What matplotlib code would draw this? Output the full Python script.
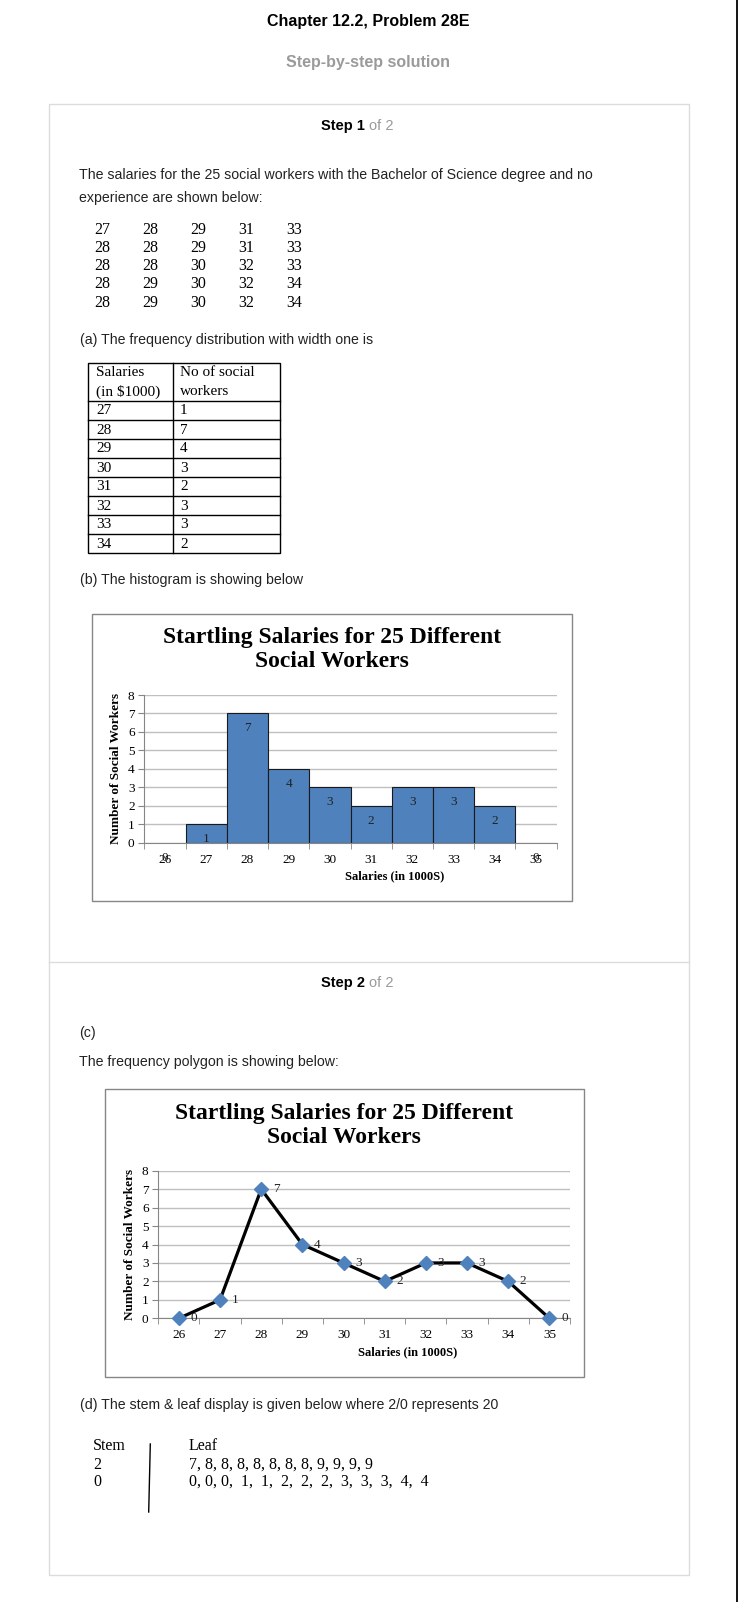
import numpy as np
import matplotlib
matplotlib.use("Agg")
import matplotlib.pyplot as plt
from matplotlib.patches import Rectangle

# raw salaries, printed column by column
salaries = [27, 28, 28, 28, 28,
            28, 28, 28, 29, 29,
            29, 29, 30, 30, 30,
            31, 31, 32, 32, 32,
            33, 33, 33, 34, 34]

# frequency table
table_salaries = [27, 28, 29, 30, 31, 32, 33, 34]
table_counts = [1, 7, 4, 3, 2, 3, 3, 2]

# histogram / polygon categories (with empty classes at both ends)
chart_x = [26, 27, 28, 29, 30, 31, 32, 33, 34, 35]
chart_y = [0, 1, 7, 4, 3, 2, 3, 3, 2, 0]

chart_title = "Startling Salaries for 25 Different\nSocial Workers"
x_label = "Salaries (in 1000S)"
y_label = "Number of Social Workers"

stems = ["2", "0"]
leaves_row1 = ["7", "8", "8", "8", "8", "8", "8", "8", "9", "9", "9", "9"]
leaves_row2 = ["0", "0", "0", " 1", " 1", " 2", " 2", " 2", " 3", " 3", " 3", " 4", " 4"]

W, H = 738, 1602
SANS = "Liberation Sans"
SERIF = "Liberation Serif"
BAR_BLUE = "#4F81BD"
GRID = "#BFBFBF"
AXGREY = "#868686"

fig = plt.figure(figsize=(W / 100, H / 100), dpi=100)
fig.patch.set_facecolor("white")

# page canvas in pixel coordinates
page = fig.add_axes([0, 0, 1, 1])
page.set_xlim(0, W)
page.set_ylim(H, 0)
page.axis("off")


def txt(x, y, s, size=10.2, color="#222222", weight="normal", ha="left", family=SANS):
    page.text(x, y, s, fontsize=size, color=color, fontweight=weight, ha=ha, va="center",
              family=family)


def px_rect(left, top, right, bottom):
    """pixel box -> figure fraction rect"""
    return [left / W, 1 - bottom / H, (right - left) / W, (bottom - top) / H]


# header
txt(368, 21.5, "Chapter 12.2, Problem 28E", size=11.5, color="black", weight="bold", ha="center")
txt(368.5, 63, "Step-by-step solution", size=11.5, color="#9a9a9a", weight="bold", ha="center")

# solution box and divider
page.add_patch(Rectangle((48.5, 104.3), 640, 1575 - 104.3, fill=False, ec="#dcdcdc", lw=1))
page.plot([48.5, 688.5], [961.7, 961.7], color="#dcdcdc", lw=1)
page.plot([737, 737], [0, H], color="black", lw=1.3)

# step 1
txt(365, 126, "Step 1", size=10.5, color="black", weight="bold", ha="right")
txt(369, 126, "of 2", size=10.5, color="#9a9a9a")
txt(79, 175, "The salaries for the 25 social workers with the Bachelor of Science degree and no")
txt(79, 198, "experience are shown below:")

grid_vals = np.array(salaries).reshape(5, 5)
col_x = [102, 150, 198, 246, 294]
row_y = [229.5, 248.5, 266.5, 284.5, 303]
for c in range(5):
    for r in range(5):
        txt(col_x[c], row_y[r], str(grid_vals[c, r]), size=11.5, color="black", ha="center", family=SERIF)

# (a) frequency table
txt(80, 340, "(a) The frequency distribution with width one is")
tab_l, tab_m, tab_r = 88, 173, 280
tab_top, head_bot, row_h = 363, 401, 19
tab_bot = head_bot + row_h * len(table_salaries)
page.add_patch(Rectangle((tab_l, tab_top), tab_r - tab_l, tab_bot - tab_top, fill=False, ec="black", lw=1))
page.plot([tab_m, tab_m], [tab_top, tab_bot], color="black", lw=1)
for i in range(len(table_salaries)):
    y = head_bot + row_h * i
    page.plot([tab_l, tab_r], [y, y], color="black", lw=1)
    txt(96, y + row_h / 2 + 0.5, str(table_salaries[i]), size=11, color="black", family=SERIF)
    txt(180, y + row_h / 2 + 0.5, str(table_counts[i]), size=11, color="black", family=SERIF)
txt(96, 373, "Salaries", size=11, color="black", family=SERIF)
txt(96, 391.5, r"(in \$1000)", size=11, color="black", family=SERIF)
txt(180, 373, "No of social", size=11, color="black", family=SERIF)
txt(180, 391.5, "workers", size=11, color="black", family=SERIF)

txt(80, 580, "(b) The histogram is showing below")


def style_chart(ax):
    ax.set_xlim(25.5, 35.5)
    ax.set_ylim(0, 8)
    ax.set_yticks(range(0, 9))
    ax.set_xticks(chart_x)
    ax.set_xticks(np.arange(25.5, 36, 1), minor=True)
    ax.grid(axis="y", color=GRID, lw=1)
    ax.set_axisbelow(True)
    for side in ["top", "right"]:
        ax.spines[side].set_visible(False)
    ax.spines["left"].set_color(AXGREY)
    ax.spines["bottom"].set_color(AXGREY)
    ax.tick_params(axis="y", direction="out", length=4, color=AXGREY, pad=3, labelsize=9.5)
    ax.tick_params(axis="x", which="major", length=0, pad=8, labelsize=9.5)
    ax.tick_params(axis="x", which="minor", direction="out", length=4, color=AXGREY)
    for lab in ax.get_xticklabels() + ax.get_yticklabels():
        lab.set_family(SERIF)
    ax.set_facecolor("none")


# histogram chart
page.add_patch(Rectangle((91.7, 614), 480, 286.7, fill=False, ec=AXGREY, lw=1))
page.text(332, 649.5, chart_title, fontsize=17, fontweight="bold", ha="center", va="center",
          family=SERIF, linespacing=1.17)
ax1 = fig.add_axes(px_rect(144.3, 695, 556.7, 842.7))
style_chart(ax1)
xs = np.array(chart_x)
ys = np.array(chart_y)
mask = ys > 0
ax1.bar(xs[mask], ys[mask], width=1.0, color=BAR_BLUE, edgecolor="#1a1a1a", lw=0.8, zorder=2)
for x, y in zip(chart_x, chart_y):
    ax1.annotate(str(y), (x, y), xytext=(0, -15), textcoords="offset pixels", ha="center",
                 va="center", fontsize=9.5, family=SERIF, color="#222222", zorder=3,
                 annotation_clip=False)
page.text(395, 876.5, x_label, fontsize=9, fontweight="bold", ha="center", va="center", family=SERIF)
page.text(115.7, 768.8, y_label, fontsize=9.5, fontweight="bold", ha="center", va="center",
          rotation=90, family=SERIF)

# step 2
txt(365, 983.3, "Step 2", size=10.5, color="black", weight="bold", ha="right")
txt(369, 983.3, "of 2", size=10.5, color="#9a9a9a")
txt(79, 1033, "(c)")
txt(79, 1062, "The frequency polygon is showing below:")

# frequency polygon chart
page.add_patch(Rectangle((104.7, 1089.3), 479.6, 287.4, fill=False, ec=AXGREY, lw=1))
page.text(344, 1125.5, chart_title, fontsize=17, fontweight="bold", ha="center", va="center",
          family=SERIF, linespacing=1.17)
ax2 = fig.add_axes(px_rect(158.3, 1170.7, 570, 1318.3))
style_chart(ax2)
ax2.plot(chart_x, chart_y, color="black", lw=2.3, marker="D", markersize=7.5,
         markerfacecolor=BAR_BLUE, markeredgecolor=BAR_BLUE, zorder=3, clip_on=False)
for x, y in zip(chart_x, chart_y):
    ax2.annotate(str(y), (x, y), xytext=(15, 0), textcoords="offset pixels", ha="center",
                 va="center", fontsize=9.5, family=SERIF, color="#222222", zorder=4,
                 annotation_clip=False)
page.text(408, 1352.5, x_label, fontsize=9, fontweight="bold", ha="center", va="center", family=SERIF)
page.text(130, 1244, y_label, fontsize=9.5, fontweight="bold", ha="center", va="center",
          rotation=90, family=SERIF)

# (d) stem and leaf
txt(80, 1405, "(d) The stem & leaf display is given below where 2/0 represents 20")
txt(93, 1446, "Stem", size=11.5, color="black", family=SERIF)
txt(189, 1446, "Leaf", size=11.5, color="black", family=SERIF)
txt(93, 1465, stems[0], size=11.5, color="black", family=SERIF)
txt(93, 1482, stems[1], size=11.5, color="black", family=SERIF)
txt(189, 1465, ", ".join(leaves_row1), size=11.5, color="black", family=SERIF)
txt(189, 1482, ", ".join(leaves_row2), size=11.5, color="black", family=SERIF)
page.plot([150.3, 148.7], [1444, 1512], color="black", lw=1)

fig.savefig("out.png", dpi=100, facecolor="white")
